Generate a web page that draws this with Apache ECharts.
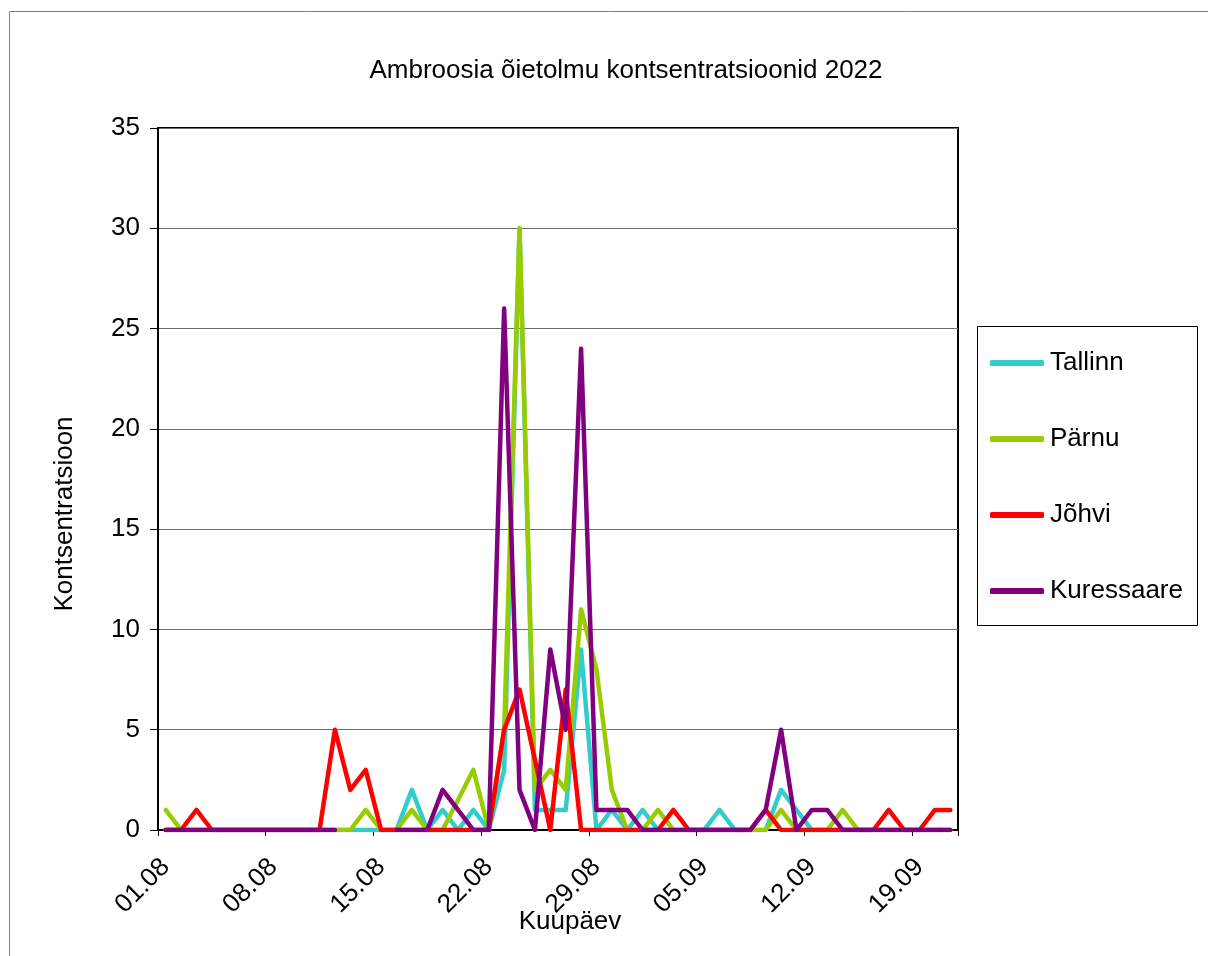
<!DOCTYPE html>
<html>
<head>
<meta charset="utf-8">
<script src="https://cdn.jsdelivr.net/npm/echarts@6/dist/echarts.min.js"></script>
<style>
  html, body { margin: 0; padding: 0; background: #ffffff; }
  #chart { width: 1208px; height: 956px; }
</style>
</head>
<body>
<div id="chart"></div>
<script>
// Daily dates, 1 August – 21 September 2022
const days = [
  '01.08','02.08','03.08','04.08','05.08','06.08','07.08','08.08','09.08','10.08',
  '11.08','12.08','13.08','14.08','15.08','16.08','17.08','18.08','19.08','20.08',
  '21.08','22.08','23.08','24.08','25.08','26.08','27.08','28.08','29.08','30.08',
  '31.08','01.09','02.09','03.09','04.09','05.09','06.09','07.09','08.09','09.09',
  '10.09','11.09','12.09','13.09','14.09','15.09','16.09','17.09','18.09','19.09',
  '20.09','21.09'
];

// Ragweed pollen concentrations per station (null = no measurement)
const tallinn = [
  0,0,0,0,0,0,0,0,0,0,
  0,0,0,0,0,0,2,0,1,0,
  1,0,3,30,1,1,1,9,0,1,
  0,1,0,0,0,0,1,0,0,0,
  2,1,0,0,0,0,0,0,0,0,
  0,0
];
const parnu = [
  1,0,0,0,0,0,0,0,0,0,
  0,0,0,1,0,0,1,0,0,1.5,
  3,0,5,30,2,3,2,11,8,2,
  0,0,1,0,0,0,0,0,0,0,
  1,0,0,0,1,0,0,0,0,0,
  0,0
];
const johvi = [
  0,0,1,0,0,0,0,0,0,0,
  0,5,2,3,0,0,0,0,0,0,
  0,0,5,7,3.5,0,7,0,0,0,
  0,0,0,1,0,0,0,0,0,1,
  0,0,0,0,0,0,0,1,0,0,
  1,1
];
const kuressaare = [
  0,0,0,0,0,0,0,0,0,0,
  0,0,null,null,null,0,0,0,2,1,
  0,0,26,2,0,9,5,24,1,1,
  1,0,0,0,0,0,0,0,0,1,
  5,0,1,1,0,0,0,0,0,0,
  0,0
];

const stationNames = ['Tallinn', 'Pärnu', 'Jõhvi', 'Kuressaare'];
const stationColors = ['#33CCCC', '#99CC00', '#FF0000', '#800080'];
const stationData = [tallinn, parnu, johvi, kuressaare];

const yTicks = { min: 0, max: 35, step: 5 };

const FONT = 'Arial, "Liberation Sans", sans-serif';
const FS = 26;

const chart = echarts.init(document.getElementById('chart'), null, { renderer: 'canvas' });

const series = stationNames.map((name, i) => ({
  name: name,
  type: 'line',
  data: stationData[i],
  symbol: 'none',
  connectNulls: false,
  smooth: false,
  animation: false,
  color: stationColors[i],
  lineStyle: { width: 4.5, color: stationColors[i], join: 'round', cap: 'round' },
  z: 2 + i
}));

chart.setOption({
  backgroundColor: '#ffffff',
  animation: false,
  textStyle: { fontFamily: FONT, color: '#000' },
  title: {
    text: 'Ambroosia õietolmu kontsentratsioonid 2022',
    left: 621,
    top: 53,
    textAlign: 'center',
    textStyle: { fontFamily: FONT, fontSize: FS, fontWeight: 'normal', color: '#000' }
  },
  grid: {
    left: 158, top: 128, width: 800, height: 702,
    show: true, borderColor: '#000', borderWidth: 2, backgroundColor: 'transparent'
  },
  legend: {
    orient: 'vertical',
    left: 990,
    top: 350,
    itemWidth: 54,
    itemHeight: 6,
    itemGap: 50,
    icon: 'roundRect',
    padding: 0,
    textStyle: { fontFamily: FONT, fontSize: FS, color: '#000', padding: [0, 0, 0, 1] },
    data: stationNames
  },
  xAxis: {
    type: 'category',
    data: days,
    boundaryGap: true,
    axisLine: { show: true, lineStyle: { color: '#000', width: 2 } },
    axisTick: { show: true, interval: 6, length: 6, lineStyle: { color: '#000', width: 1 } },
    axisLabel: {
      interval: 6, rotate: 45, margin: 33,
      fontFamily: FONT, fontSize: FS, color: '#000'
    },
    splitLine: { show: false }
  },
  yAxis: {
    type: 'value',
    min: yTicks.min, max: yTicks.max, interval: yTicks.step,
    axisLine: { show: true, lineStyle: { color: '#000', width: 2 } },
    axisTick: { show: true, length: 8, lineStyle: { color: '#000', width: 1 } },
    axisLabel: { margin: 18, fontFamily: FONT, fontSize: FS, color: '#000' },
    splitLine: { show: true, lineStyle: { color: '#6e6e6e', width: 1 } }
  },
  graphic: [
    {
      type: 'rect', silent: true, z: 0,
      shape: { x: 9.5, y: 11.5, width: 1400, height: 1200 },
      style: { fill: 'none', stroke: '#808080', lineWidth: 1 }
    },
    {
      type: 'rect', silent: true, z: 0,
      shape: { x: 977.5, y: 326.5, width: 220, height: 299 },
      style: { fill: '#fff', stroke: '#000', lineWidth: 1 }
    },
    {
      type: 'text', silent: true,
      x: 65, y: 514, rotation: Math.PI / 2,
      style: { text: 'Kontsentratsioon', fontFamily: FONT, fontSize: FS, fill: '#000', align: 'center', verticalAlign: 'middle' }
    },
    {
      type: 'text', silent: true,
      x: 570, y: 922,
      style: { text: 'Kuupäev', fontFamily: FONT, fontSize: FS, fill: '#000', align: 'center', verticalAlign: 'middle' }
    }
  ],
  series: series
});
</script>
</body>
</html>
